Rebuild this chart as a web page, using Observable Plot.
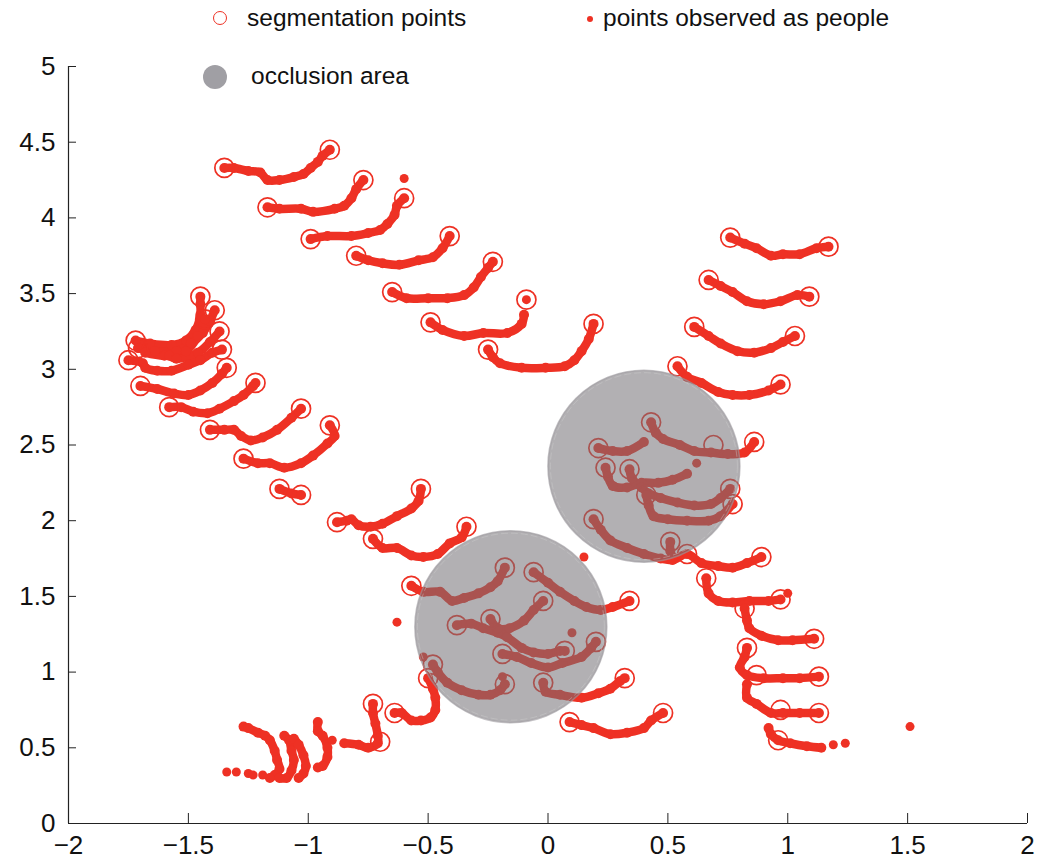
<!DOCTYPE html>
<html><head><meta charset="utf-8">
<script src="https://cdn.jsdelivr.net/npm/d3@7"></script>
<script src="https://cdn.jsdelivr.net/npm/@observablehq/plot@0.6"></script>
<style>
body{margin:0;background:#fff;}
#wrap{position:relative;width:1046px;height:867px;font-family:"Liberation Sans",Arial,sans-serif;}
.leg{position:absolute;font-size:24.5px;color:#111;line-height:1;white-space:nowrap;}
.sym{position:absolute;border-radius:50%;box-sizing:border-box;}
</style></head><body><div id="wrap"></div>
<script>
// ---- data (metres) ----
const upperBand = [
  [[-1.35,4.33],[-1.31,4.33],[-1.25,4.31],[-1.20,4.30],[-1.17,4.25],[-1.12,4.25],[-1.06,4.27],[-1.02,4.29],[-0.99,4.33],[-0.96,4.37],[-0.94,4.41],[-0.91,4.45]],
  [[-1.17,4.07],[-1.12,4.06],[-1.03,4.06],[-0.98,4.04],[-0.89,4.06],[-0.85,4.08],[-0.82,4.13],[-0.80,4.19],[-0.77,4.25]],
  [[-0.99,3.86],[-0.92,3.88],[-0.82,3.88],[-0.75,3.90],[-0.70,3.92],[-0.67,3.96],[-0.64,4.02],[-0.63,4.08],[-0.60,4.13]],
  [[-0.80,3.75],[-0.75,3.72],[-0.69,3.70],[-0.62,3.69],[-0.54,3.72],[-0.48,3.74],[-0.44,3.80],[-0.41,3.88]],
  [[-0.65,3.51],[-0.59,3.47],[-0.50,3.47],[-0.42,3.47],[-0.35,3.49],[-0.31,3.54],[-0.28,3.61],[-0.25,3.67],[-0.23,3.71]],
  [[-0.49,3.31],[-0.44,3.26],[-0.35,3.22],[-0.27,3.24],[-0.17,3.24],[-0.11,3.30],[-0.10,3.36]],
  [[-0.25,3.13],[-0.23,3.08],[-0.20,3.04],[-0.11,3.01],[-0.01,3.01],[0.07,3.02],[0.11,3.06],[0.14,3.12],[0.17,3.20],[0.19,3.30]]
];
const leftCluster = [
  [[-1.72,3.19],[-1.66,3.17],[-1.57,3.16],[-1.51,3.19],[-1.47,3.26],[-1.45,3.36],[-1.45,3.43],[-1.45,3.48]],
  [[-1.71,3.14],[-1.64,3.12],[-1.55,3.12],[-1.49,3.17],[-1.44,3.24],[-1.41,3.32],[-1.39,3.39]],
  [[-1.68,3.11],[-1.60,3.09],[-1.51,3.12],[-1.46,3.22],[-1.43,3.33]],
  [[-1.58,3.09],[-1.55,3.07],[-1.46,3.11],[-1.41,3.18],[-1.37,3.25]],
  [[-1.75,3.06],[-1.69,3.04],[-1.68,3.01],[-1.63,2.99],[-1.57,2.99],[-1.50,3.03],[-1.45,3.06],[-1.40,3.11],[-1.36,3.13]],
  [[-1.70,2.89],[-1.63,2.87],[-1.56,2.84],[-1.50,2.83],[-1.45,2.86],[-1.40,2.91],[-1.36,2.97],[-1.34,3.01]],
  [[-1.58,2.75],[-1.53,2.75],[-1.48,2.72],[-1.42,2.71],[-1.37,2.74],[-1.31,2.79],[-1.27,2.83],[-1.23,2.89],[-1.22,2.91]],
  [[-1.41,2.60],[-1.35,2.60],[-1.31,2.60],[-1.28,2.56],[-1.24,2.53],[-1.19,2.55],[-1.13,2.60],[-1.07,2.68],[-1.03,2.74]],
  [[-1.27,2.41],[-1.21,2.38],[-1.16,2.38],[-1.10,2.35],[-1.03,2.38],[-0.98,2.43],[-0.92,2.51],[-0.89,2.56],[-0.91,2.63]],
  [[-1.12,2.21],[-1.07,2.18],[-1.03,2.17]]
];
const middleBand = [
  [[-0.88,1.99],[-0.84,2.00],[-0.82,2.01],[-0.79,1.97],[-0.74,1.96],[-0.69,1.98],[-0.63,2.03],[-0.57,2.08],[-0.54,2.13],[-0.53,2.21]],
  [[-0.73,1.88],[-0.69,1.82],[-0.63,1.82],[-0.57,1.77],[-0.52,1.76],[-0.46,1.78],[-0.41,1.85],[-0.36,1.89],[-0.34,1.96]],
  [[-0.57,1.57],[-0.52,1.53],[-0.45,1.53],[-0.40,1.47],[-0.35,1.49],[-0.29,1.52],[-0.24,1.56],[-0.21,1.60],[-0.18,1.69]]
];
const lowerOcclusionTracks = [
  [[-0.06,1.66],[0.00,1.59],[0.05,1.53],[0.11,1.47],[0.16,1.43],[0.22,1.41],[0.27,1.43],[0.34,1.47]],
  [[-0.38,1.31],[-0.32,1.32],[-0.27,1.29],[-0.21,1.26],[-0.17,1.23],[-0.11,1.16],[-0.06,1.13],[0.00,1.12],[0.05,1.14],[0.07,1.14]],
  [[-0.24,1.35],[-0.21,1.29],[-0.16,1.29],[-0.10,1.34],[-0.06,1.41],[-0.02,1.47]],
  [[-0.19,1.12],[-0.13,1.10],[-0.07,1.06],[0.00,1.03],[0.06,1.06],[0.14,1.10],[0.18,1.16],[0.20,1.20]],
  [[-0.48,1.05],[-0.46,1.00],[-0.42,0.93],[-0.36,0.88],[-0.29,0.85],[-0.24,0.85],[-0.20,0.88],[-0.18,0.92]],
  [[-0.02,0.93],[-0.01,0.87],[0.05,0.85],[0.14,0.83],[0.21,0.86],[0.26,0.89],[0.30,0.94],[0.32,0.96]]
];
const upperOcclusionTracks = [
  [[0.43,2.65],[0.45,2.58],[0.48,2.54],[0.55,2.50],[0.61,2.46],[0.68,2.45],[0.75,2.44],[0.82,2.45],[0.86,2.52]],
  [[0.21,2.48],[0.27,2.46],[0.33,2.46],[0.40,2.52]],
  [[0.24,2.35],[0.25,2.29],[0.27,2.23],[0.33,2.22],[0.39,2.25],[0.46,2.25],[0.52,2.27],[0.58,2.31]],
  [[0.34,2.34],[0.35,2.28],[0.39,2.22],[0.42,2.18],[0.47,2.15],[0.54,2.12],[0.61,2.10],[0.68,2.11],[0.72,2.15],[0.76,2.21]],
  [[0.41,2.17],[0.42,2.10],[0.44,2.03],[0.50,2.01],[0.58,2.00],[0.67,2.00],[0.72,2.03],[0.77,2.11]],
  [[0.19,2.01],[0.22,1.94],[0.26,1.87],[0.33,1.82],[0.40,1.78],[0.47,1.75],[0.52,1.74],[0.58,1.78],[0.64,1.72],[0.71,1.70],[0.77,1.69],[0.83,1.72],[0.89,1.76]],
  [[0.51,1.86],[0.51,1.80],[0.52,1.76]]
];
const rightUpper = [
  [[0.76,3.87],[0.82,3.83],[0.87,3.80],[0.93,3.75],[0.98,3.76],[1.05,3.76],[1.12,3.80],[1.17,3.81]],
  [[0.67,3.59],[0.72,3.55],[0.77,3.51],[0.83,3.45],[0.90,3.43],[0.97,3.45],[1.04,3.49],[1.09,3.48]],
  [[0.61,3.28],[0.67,3.22],[0.72,3.17],[0.79,3.12],[0.86,3.11],[0.93,3.14],[0.98,3.18],[1.03,3.22]],
  [[0.54,3.02],[0.58,2.95],[0.64,2.91],[0.71,2.85],[0.77,2.83],[0.84,2.83],[0.92,2.86],[0.97,2.90]]
];
const rightLower = [
  [[0.66,1.62],[0.67,1.52],[0.71,1.47],[0.77,1.46],[0.84,1.47],[0.92,1.47],[0.97,1.48]],
  [[0.82,1.42],[0.83,1.34],[0.84,1.29],[0.89,1.24],[0.96,1.21],[1.02,1.21],[1.11,1.22]],
  [[0.83,1.16],[0.82,1.10],[0.80,1.03],[0.83,0.98],[0.90,0.96],[0.98,0.96],[1.05,0.96],[1.13,0.97]],
  [[0.83,0.92],[0.83,0.83],[0.87,0.79],[0.93,0.73],[0.98,0.73],[1.05,0.73],[1.13,0.73]],
  [[0.92,0.63],[0.93,0.59],[0.96,0.55],[1.01,0.53],[1.08,0.51],[1.14,0.50]]
];
const bottomGroup = [
  [[-1.27,0.64],[-1.25,0.63],[-1.21,0.60],[-1.18,0.58],[-1.16,0.55],[-1.14,0.48],[-1.13,0.42],[-1.12,0.36],[-1.14,0.32],[-1.16,0.30]],
  [[-1.10,0.58],[-1.08,0.55],[-1.07,0.48],[-1.06,0.42],[-1.07,0.35],[-1.09,0.30],[-1.12,0.30]],
  [[-1.06,0.56],[-1.04,0.52],[-1.02,0.45],[-1.01,0.38],[-1.02,0.33],[-1.04,0.30]],
  [[-0.96,0.67],[-0.96,0.61],[-0.94,0.58],[-0.92,0.50],[-0.92,0.44],[-0.94,0.38],[-0.96,0.37]],
  [[-0.85,0.53],[-0.79,0.52],[-0.75,0.50],[-0.71,0.53],[-0.71,0.58],[-0.72,0.66],[-0.73,0.73],[-0.73,0.79]],
  [[-0.64,0.73],[-0.61,0.73],[-0.57,0.68],[-0.53,0.68],[-0.49,0.70],[-0.47,0.75],[-0.47,0.83],[-0.48,0.89],[-0.50,0.96]],
  [[0.09,0.67],[0.14,0.65],[0.19,0.63],[0.26,0.59],[0.33,0.60],[0.40,0.63],[0.43,0.68],[0.48,0.73]]
];
const strayPoints = [
  [-0.60,4.26],[-0.09,3.46],[0.10,1.26],[-0.63,1.33],[0.15,1.76],[-0.19,0.97],[-0.52,1.10],[0.62,2.38],
  [1.00,1.52],[1.19,0.52],[1.24,0.53],[1.51,0.64],[-0.90,0.55],
  [-1.34,0.34],[-1.30,0.34],[-1.25,0.33],[-1.23,0.32],[-1.19,0.32]
];
const segmentationPoints = [
  [-1.35,4.33],[-0.91,4.45],[-1.17,4.07],[-0.77,4.25],[-0.99,3.86],[-0.60,4.13],[-0.80,3.75],[-0.41,3.88],
  [-0.65,3.51],[-0.23,3.71],[-0.49,3.31],[-0.09,3.46],[-0.25,3.13],[0.19,3.30],
  [-1.45,3.48],[-1.39,3.39],[-1.43,3.33],[-1.37,3.25],[-1.36,3.13],[-1.34,3.01],[-1.72,3.19],[-1.71,3.14],
  [-1.75,3.06],[-1.70,2.89],[-1.58,2.75],[-1.22,2.91],[-1.41,2.60],[-1.03,2.74],[-1.27,2.41],[-0.91,2.63],
  [-1.12,2.21],[-1.03,2.17],
  [-0.88,1.99],[-0.53,2.21],[-0.73,1.88],[-0.34,1.96],[-0.57,1.57],[-0.18,1.69],
  [-0.06,1.66],[0.34,1.47],[-0.38,1.31],[-0.24,1.35],[-0.02,1.47],[0.07,1.14],[-0.19,1.12],[0.20,1.20],
  [-0.48,1.05],[-0.50,0.96],[-0.18,0.92],[-0.02,0.93],[0.32,0.96],
  [-0.64,0.73],[-0.73,0.79],[-0.70,0.54],[0.09,0.67],[0.48,0.73],
  [0.76,3.87],[1.17,3.81],[0.67,3.59],[1.09,3.48],[0.61,3.28],[1.03,3.22],[0.54,3.02],[0.97,2.90],
  [0.43,2.65],[0.69,2.50],[0.86,2.52],[0.21,2.48],[0.24,2.35],[0.34,2.34],[0.76,2.21],[0.41,2.17],
  [0.77,2.11],[0.19,2.01],[0.51,1.86],[0.58,1.78],[0.89,1.76],
  [0.66,1.62],[0.97,1.48],[0.82,1.42],[1.11,1.22],[0.83,1.16],[0.87,0.98],[1.13,0.97],[0.97,0.75],[1.13,0.73],[0.96,0.55]
];
const occlusionX = [0.40, -0.155];
const occlusionY = [2.36, 1.30];
const xTicks = [-2, -1.5, -1, -0.5, 0, 0.5, 1, 1.5, 2];
const yTicks = [0, 0.5, 1, 1.5, 2, 2.5, 3, 3.5, 4, 4.5, 5];

// ---- build ----
const RED = "#ee3124";
const allTracks = [...upperBand, ...leftCluster, ...middleBand, ...lowerOcclusionTracks,
  ...upperOcclusionTracks, ...rightUpper, ...rightLower, ...bottomGroup];
const trackPts = allTracks.flatMap((t, i) => t.map(([x, y]) => ({x, y, id: i})));
const strays = strayPoints.map(([x, y]) => ({x, y}));
const segs = segmentationPoints.map(([x, y]) => ({x, y}));
const occ = occlusionX.map((x, i) => ({x, y: occlusionY[i]}));
const fmt = d3.format("");

const chart = Plot.plot({
  width: 1046, height: 867,
  marginLeft: 68, marginRight: 19, marginTop: 66, marginBottom: 44,
  x: {domain: [-2, 2]},
  y: {domain: [0, 5]},
  style: {fontFamily: '"Liberation Sans", Arial, sans-serif', fontSize: "26px", color: "#111", background: "transparent"},
  marks: [
    Plot.line(trackPts, {x: "x", y: "y", z: "id", stroke: RED, strokeWidth: 8.5, strokeLinecap: "round", strokeLinejoin: "round", curve: "catmull-rom"}),
    Plot.dot(trackPts, {x: "x", y: "y", r: 5, fill: RED}),
    Plot.dot(strays, {x: "x", y: "y", r: 4.5, fill: RED}),
    Plot.dot(segs, {x: "x", y: "y", r: 9.5, stroke: RED, strokeWidth: 1.7, fill: "none"}),
    Plot.dot(occ, {x: "x", y: "y", r: 96, fill: "#727075", fillOpacity: 0.55, stroke: "#9c9a9e", strokeOpacity: 0.6, strokeWidth: 1.5}),
    Plot.dot(occ, {x: "x", y: "y", r: 93.5, fill: "none", stroke: "#d0d0d0", strokeOpacity: 0.5, strokeWidth: 0.8, strokeDasharray: "7,3"}),
    Plot.ruleY([0], {stroke: "#222", strokeWidth: 1.2}),
    Plot.ruleX([-2], {stroke: "#222", strokeWidth: 1.2}),
    Plot.axisX(xTicks, {anchor: "bottom", tickSize: -10, tickPadding: 22, label: null, stroke: "#222", tickFormat: fmt}),
    Plot.axisY(yTicks, {anchor: "left", tickSize: -8, tickPadding: 21, label: null, stroke: "#222", tickFormat: fmt})
  ]
});
const wrap = document.getElementById("wrap");
wrap.appendChild(chart);

// ---- legend (overlay) ----
function sym(left, top, size, css) {
  const d = document.createElement("div");
  d.className = "sym";
  d.style.left = left + "px"; d.style.top = top + "px";
  d.style.width = size + "px"; d.style.height = size + "px";
  Object.assign(d.style, css);
  wrap.appendChild(d);
}
function txt(left, top, s) {
  const d = document.createElement("div");
  d.className = "leg";
  d.style.left = left + "px"; d.style.top = top + "px";
  d.textContent = s;
  wrap.appendChild(d);
}
sym(213, 11, 14, {border: "1.5px solid " + RED});
txt(247, 6, "segmentation points");
sym(587, 16, 6, {background: RED});
txt(603, 6, "points observed as people");
sym(203, 65, 24, {background: "#a09fa4"});
txt(251, 64, "occlusion area");
</script></body></html>
